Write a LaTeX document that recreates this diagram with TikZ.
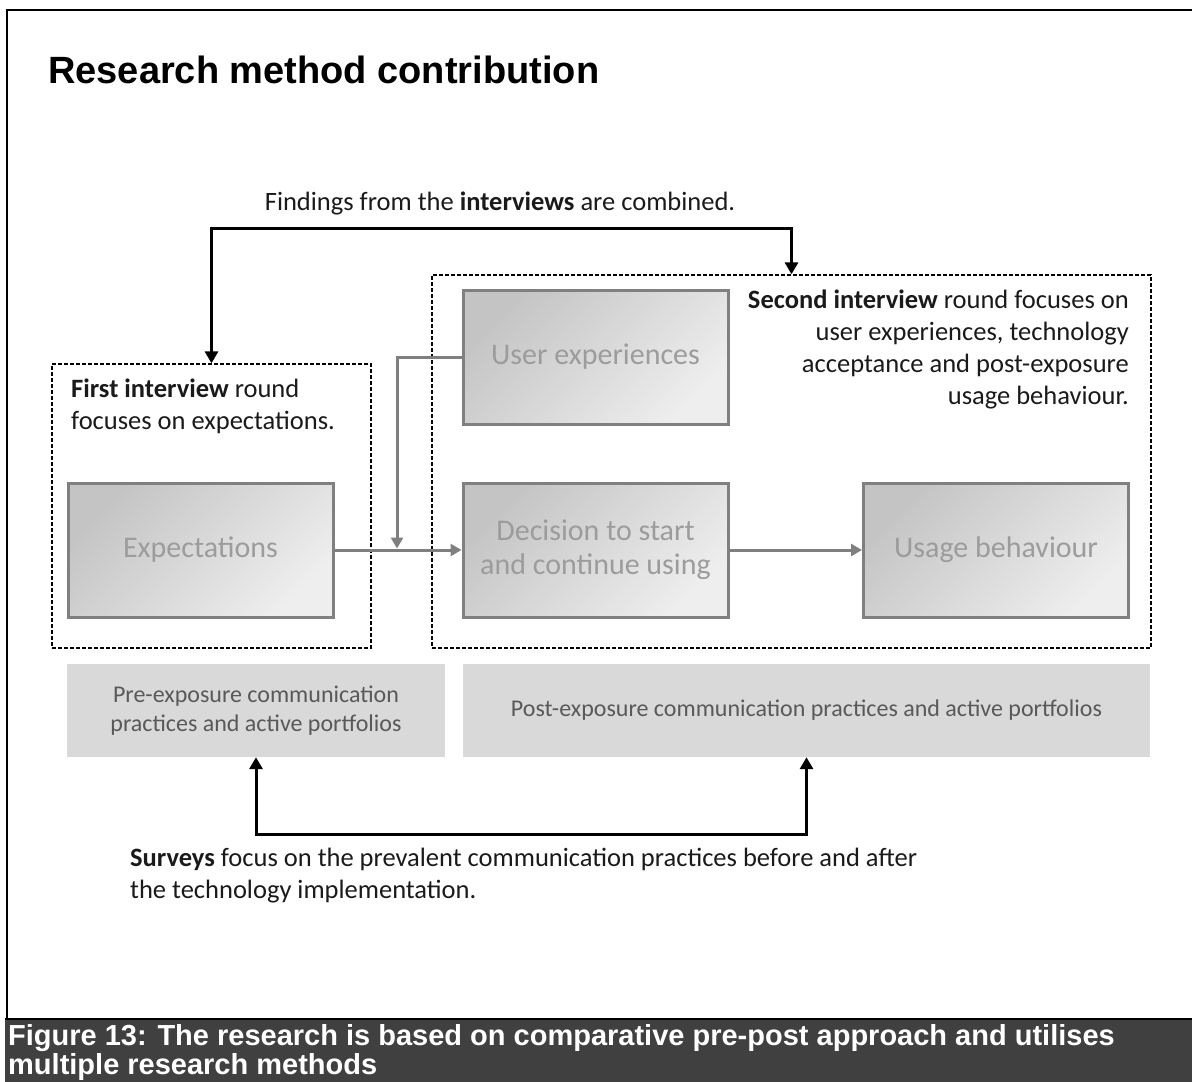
\documentclass[tikz,border=0pt]{standalone}
\usepackage{fontspec}
\setmainfont{Carlito}
\newfontfamily\headfont{Liberation Sans}
\usetikzlibrary{arrows.meta}

\definecolor{boxedge}{HTML}{808080}
\definecolor{boxtop}{HTML}{C4C4C4}
\definecolor{boxbottom}{HTML}{EEEEEE}
\definecolor{boxtext}{HTML}{9C9C9C}
\definecolor{panelfill}{HTML}{D9D9D9}
\definecolor{paneltext}{HTML}{595959}
\definecolor{captionfill}{HTML}{404040}
\definecolor{linkgray}{HTML}{7F7F7F}
\definecolor{notetext}{HTML}{1A1A1A}

\begin{document}
\begin{tikzpicture}[x=1pt,y=-1pt,
  stage/.style={draw=boxedge, line width=3pt, top color=boxtop, bottom color=boxbottom,
    shading angle=45, minimum width=265pt, minimum height=134pt, inner sep=0pt,
    text=boxtext, font=\fontsize{30}{34}\selectfont, align=center},
  roundbox/.style={draw=black, line width=1.3pt, dash pattern=on 4pt off 2pt, inner sep=0pt},
  panel/.style={fill=panelfill, inner sep=0pt, minimum height=93pt, text=paneltext,
    font=\fontsize{24}{29}\selectfont, align=center},
  note/.style={inner sep=0pt, text=notetext, font=\fontsize{26.5}{32}\selectfont},
  blackarrow/.style={line width=3pt, {Triangle[length=12pt,width=13pt]}-{Triangle[length=12pt,width=13pt]}},
  grayarrow/.style={draw=linkgray, line width=3pt, -{Triangle[length=11pt,width=12pt]}},
  capline/.style={anchor=base west, inner sep=0pt, text=white, font=\headfont\bfseries\fontsize{29}{31}\selectfont}
]
\useasboundingbox (0,0) rectangle (1192,1082);

% page frame
\draw[line width=2.5pt] (1192,10) -- (7,10) -- (7,1019);

% heading
\node[anchor=base west, inner sep=0pt, font=\headfont\bfseries\fontsize{38}{44}\selectfont] (title) at (48,83) {Research method contribution};

% interview rounds
\node[roundbox, minimum width=319pt, minimum height=284pt] (b1) at (211.5,506) {};
\node[roundbox, minimum width=719pt, minimum height=373pt] (b2) at (791.5,461.5) {};

% stages
\node[stage] (exp) at (200.5,550) {Expectations};
\node[stage] (ux)  at (595.5,357) {User experiences};
\node[stage] (dec) at (595.5,550) {Decision to start\\and continue using};
\node[stage] (use) at (996,550) {Usage behaviour};

% survey panels
\node[panel, minimum width=378pt] (pre) at (256,710.5) {Pre-exposure communication\\practices and active portfolios};
\node[panel, minimum width=687pt] (post) at (806.5,710.5) {Post-exposure communication practices and active portfolios};

% round descriptions
\node[note, anchor=base west] (r1a) at (71,397) {\textbf{First interview} round};
\node[note, anchor=base west] (r1b) at (71,429) {focuses on expectations.};
\node[note, anchor=base east] (r2a) at (1129,308) {\textbf{Second interview} round focuses on};
\node[note, anchor=base east] (r2b) at (1129,340) {user experiences, technology};
\node[note, anchor=base east] (r2c) at (1129,372) {acceptance and post-exposure};
\node[note, anchor=base east] (r2d) at (1129,404) {usage behaviour.};

% interview findings link
\node[note, anchor=base] (findings) at (500,210) {Findings from the \textbf{interviews} are combined.};
\coordinate (topbar) at (500,228);
\draw[blackarrow] (b1.north) |- (topbar) -| (b2.north);

% stage flow
\draw[grayarrow] (exp.east) -- (dec.west);
\draw[grayarrow] (dec.east) -- (use.west);
\coordinate (merge) at (397,548.5);
\draw[grayarrow] (ux.west) -| (merge);

% survey link
\coordinate (botbar) at (530,834);
\draw[blackarrow] (pre.south) |- (botbar) -| (post.south);
\node[note, anchor=base west] (sv1) at (130,866) {\textbf{Surveys} focus on the prevalent communication practices before and after};
\node[note, anchor=base west] (sv2) at (130,898) {the technology implementation.};

% caption band
\fill[captionfill] (5,1020) rectangle (1192,1082);
\draw[line width=2pt] (5,1019) -- (1192,1019);
\node[capline] (cap1) at (8,1045) {Figure 13: The research is based on comparative pre-post approach and utilises};
\node[capline] (cap2) at (8,1074) {multiple research methods};
\end{tikzpicture}
\end{document}
